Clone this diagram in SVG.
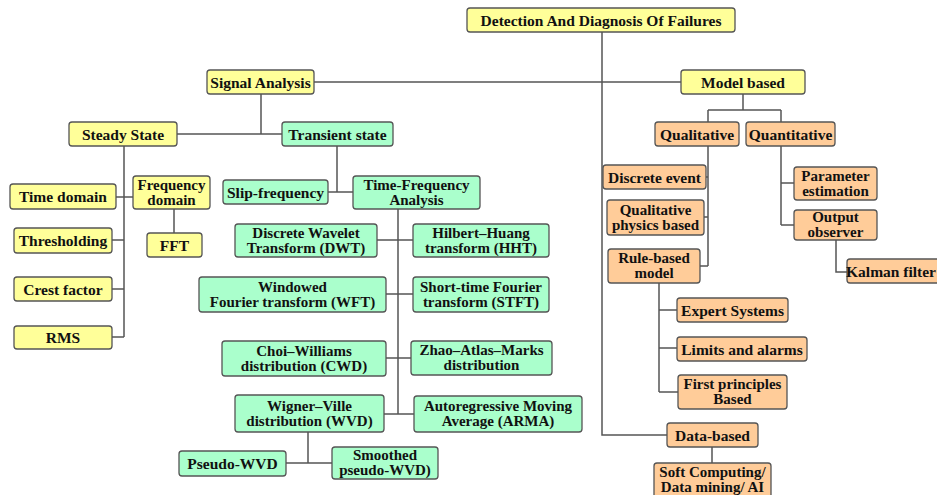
<svg xmlns="http://www.w3.org/2000/svg" width="937" height="495" viewBox="0 0 937 495">
<style>
rect{stroke:#555;stroke-width:1.3}
.y rect{fill:#ffff99}
.g rect{fill:#aaffcc}
.o rect{fill:#ffcc99}
text{font-family:"Liberation Serif","Times New Roman",serif;font-weight:bold;font-size:15.5px;fill:#111;text-anchor:middle}
text.t{font-size:15px}
#connectors path{fill:none;stroke:#555;stroke-width:1.5}
</style>
<rect width="937" height="495" fill="#fff" style="stroke:none"/>
<g id="connectors">
<path d="M602,32 V435 H667"/>
<path d="M314,82 H681"/>
<path d="M261,94 V134 M177,134 H282"/>
<path d="M743,94 V110 M708,110 H781 M708,110 V122 M781,110 V122"/>
<path d="M124,146 V337 M116,197 H133 M112,240 H124 M112,289 H124 M112,337 H124"/>
<path d="M174,209 V233"/>
<path d="M337,146 V192 M328,192 H353"/>
<path d="M398,209 V414 M377,240 H413 M386,294 H413 M386,358 H411 M384,414 H414"/>
<path d="M308,432 V463 M286,463 H332"/>
<path d="M708,146 V266 M706,177 H708 M704,217 H708 M700,266 H708"/>
<path d="M781,146 V225 M781,183 H794 M781,225 H794"/>
<path d="M836,240 V272 H847"/>
<path d="M659,283 V392 M659,310 H677 M659,348 H677 M659,392 H678"/>
<path d="M712,447 V463"/>
</g>
<g id="n_root" class="y"><rect x="467" y="8" width="268" height="24" rx="3"/><text x="601" y="25.5">Detection And Diagnosis Of Failures</text></g>
<g id="n_signal" class="y"><rect x="207" y="70" width="107" height="24" rx="3"/><text x="260.5" y="87.5">Signal Analysis</text></g>
<g id="n_model" class="y"><rect x="681" y="70" width="124" height="24" rx="3"/><text x="743" y="87.5">Model based</text></g>
<g id="n_steady" class="y"><rect x="69" y="122" width="108" height="24" rx="3"/><text x="123" y="139.5">Steady State</text></g>
<g id="n_time" class="y"><rect x="10" y="184" width="106" height="25" rx="3"/><text x="63" y="202">Time domain</text></g>
<g id="n_freq" class="y"><rect x="133" y="176" width="77" height="33" rx="3"/><text class="t"><tspan x="171.5" y="189.5">Frequency</tspan><tspan x="171.5" y="204.5">domain</tspan></text></g>
<g id="n_thresh" class="y"><rect x="14" y="228" width="98" height="25" rx="3"/><text x="63" y="246">Thresholding</text></g>
<g id="n_fft" class="y"><rect x="147" y="233" width="55" height="24" rx="3"/><text x="174.5" y="250.5">FFT</text></g>
<g id="n_crest" class="y"><rect x="14" y="277" width="98" height="24" rx="3"/><text x="63" y="294.5">Crest factor</text></g>
<g id="n_rms" class="y"><rect x="14" y="326" width="98" height="23" rx="3"/><text x="63" y="343">RMS</text></g>
<g id="n_transient" class="g"><rect x="282" y="122" width="111" height="24" rx="3"/><text x="337.5" y="139.5">Transient state</text></g>
<g id="n_slip" class="g"><rect x="223" y="180" width="105" height="24" rx="3"/><text x="275.5" y="197.5">Slip-frequency</text></g>
<g id="n_tfa" class="g"><rect x="353" y="176" width="127" height="33" rx="3"/><text class="t"><tspan x="416.5" y="189.5">Time-Frequency</tspan><tspan x="416.5" y="204.5">Analysis</tspan></text></g>
<g id="n_dwt" class="g"><rect x="235" y="224" width="142" height="33" rx="3"/><text class="t"><tspan x="306" y="237.5">Discrete Wavelet</tspan><tspan x="306" y="252.5">Transform (DWT)</tspan></text></g>
<g id="n_hht" class="g"><rect x="413" y="224" width="136" height="33" rx="3"/><text class="t"><tspan x="481" y="237.5">Hilbert–Huang</tspan><tspan x="481" y="252.5">transform (HHT)</tspan></text></g>
<g id="n_wft" class="g"><rect x="199" y="277" width="187" height="35" rx="3"/><text class="t"><tspan x="292.5" y="291.5">Windowed</tspan><tspan x="292.5" y="306.5">Fourier transform (WFT)</tspan></text></g>
<g id="n_stft" class="g"><rect x="413" y="277" width="136" height="35" rx="3"/><text class="t"><tspan x="481" y="291.5">Short-time Fourier</tspan><tspan x="481" y="306.5">transform (STFT)</tspan></text></g>
<g id="n_cwd" class="g"><rect x="222" y="341" width="164" height="35" rx="3"/><text class="t"><tspan x="304" y="355.5">Choi–Williams</tspan><tspan x="304" y="370.5">distribution (CWD)</tspan></text></g>
<g id="n_zam" class="g"><rect x="411" y="341" width="141" height="34" rx="3"/><text class="t"><tspan x="481.5" y="355">Zhao–Atlas–Marks</tspan><tspan x="481.5" y="370">distribution</tspan></text></g>
<g id="n_wvd" class="g"><rect x="235" y="395" width="149" height="37" rx="3"/><text class="t"><tspan x="309.5" y="410.5">Wigner–Ville</tspan><tspan x="309.5" y="425.5">distribution (WVD)</tspan></text></g>
<g id="n_arma" class="g"><rect x="414" y="396" width="168" height="36" rx="3"/><text class="t"><tspan x="498" y="411">Autoregressive Moving</tspan><tspan x="498" y="426">Average (ARMA)</tspan></text></g>
<g id="n_pwvd" class="g"><rect x="179" y="451" width="107" height="25" rx="3"/><text x="232.5" y="469">Pseudo-WVD</text></g>
<g id="n_spwvd" class="g"><rect x="332" y="447" width="106" height="32" rx="3"/><text class="t"><tspan x="385" y="460">Smoothed</tspan><tspan x="385" y="475">pseudo-WVD)</tspan></text></g>
<g id="n_qual" class="o"><rect x="655" y="122" width="84" height="24" rx="3"/><text x="697" y="139.5">Qualitative</text></g>
<g id="n_quant" class="o"><rect x="746" y="122" width="89" height="24" rx="3"/><text x="790.5" y="139.5">Quantitative</text></g>
<g id="n_discrete" class="o"><rect x="603" y="165" width="103" height="24" rx="3"/><text x="654.5" y="182.5">Discrete event</text></g>
<g id="n_qpb" class="o"><rect x="607" y="200" width="97" height="35" rx="3"/><text class="t"><tspan x="655.5" y="214.5">Qualitative</tspan><tspan x="655.5" y="229.5">physics based</tspan></text></g>
<g id="n_rule" class="o"><rect x="608" y="249" width="92" height="34" rx="3"/><text class="t"><tspan x="654" y="263">Rule-based</tspan><tspan x="654" y="278">model</tspan></text></g>
<g id="n_param" class="o"><rect x="794" y="167" width="83" height="33" rx="3"/><text class="t"><tspan x="835.5" y="180.5">Parameter</tspan><tspan x="835.5" y="195.5">estimation</tspan></text></g>
<g id="n_output" class="o"><rect x="794" y="210" width="83" height="30" rx="3"/><text class="t"><tspan x="835.5" y="222">Output</tspan><tspan x="835.5" y="237">observer</tspan></text></g>
<g id="n_kalman" class="o"><rect x="847" y="259" width="100" height="24" rx="3"/><text x="891" y="276.5">Kalman filter</text></g>
<g id="n_expert" class="o"><rect x="677" y="298" width="111" height="24" rx="3"/><text x="732.5" y="315.5">Expert Systems</text></g>
<g id="n_limits" class="o"><rect x="677" y="337" width="130" height="24" rx="3"/><text x="742" y="354.5">Limits and alarms</text></g>
<g id="n_first" class="o"><rect x="678" y="375" width="109" height="34" rx="3"/><text class="t"><tspan x="732.5" y="389">First principles</tspan><tspan x="732.5" y="404">Based</tspan></text></g>
<g id="n_data" class="o"><rect x="667" y="423" width="91" height="24" rx="3"/><text x="712.5" y="440.5">Data-based</text></g>
<g id="n_soft" class="o"><rect x="654" y="463" width="117" height="40" rx="3"/><text class="t"><tspan x="712.5" y="477">Soft Computing/</tspan><tspan x="712.5" y="492">Data mining/ AI</tspan></text></g>
</svg>
